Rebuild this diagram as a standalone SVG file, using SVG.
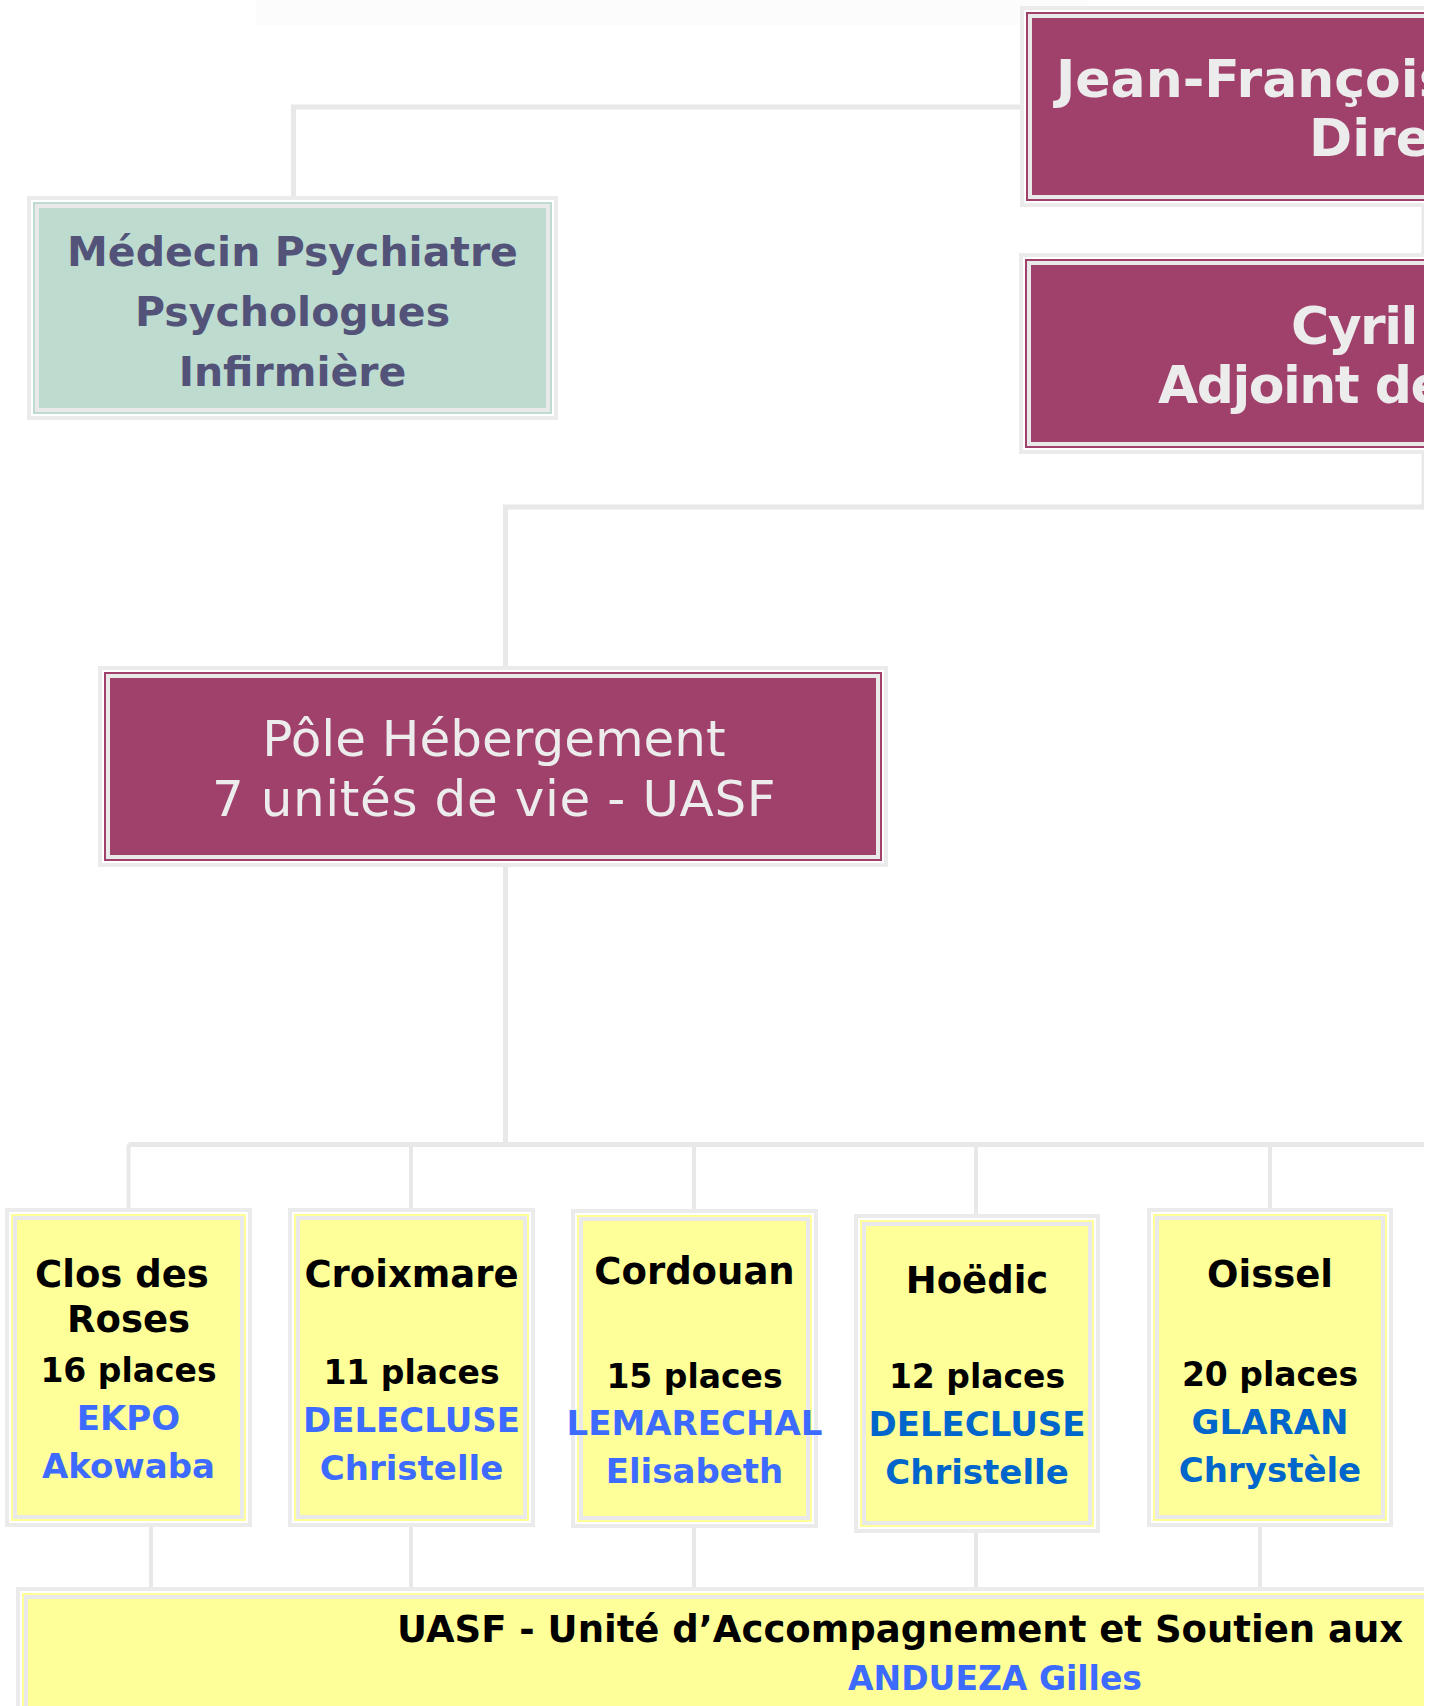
<svg xmlns="http://www.w3.org/2000/svg" width="1441" height="1706" viewBox="0 0 1441 1706">
<defs>
<clipPath id="page"><rect x="0" y="0" width="1424" height="1706"/></clipPath>
</defs>
<style>
.fr{fill:#ebebeb}
.gp{fill:#ffffff}
.ln{fill:#e9e9e9}
.mag{fill:#a0416c}
.grn{fill:#bddccf}
.yel{fill:#ffff99}
.con{fill:none;stroke:#e8e8e8;stroke-width:5}
.con4{fill:none;stroke:#e8e8e8;stroke-width:4}
text{font-family:"DejaVu Sans",Verdana,"Liberation Sans",sans-serif;text-anchor:middle}
.st{text-anchor:start}
.b{font-weight:bold}
.lt{fill:#ececec}
.med{fill:#535379}
.blk{fill:#000000}
.blu{fill:#3d6bff}
.blu2{fill:#0066cc}
.t52{font-size:52px}
.t41{font-size:41px}
.t50{font-size:50px}
.t37{font-size:37px}
.t33{font-size:33px}
.t34{font-size:34px}
.tight{letter-spacing:-1.5px}
</style>
<rect x="0" y="0" width="1441" height="1706" fill="#ffffff"/>
<rect x="256" y="0" width="832" height="25" fill="#fcfcfc"/>

<g id="connectors" clip-path="url(#page)">
  <polyline class="con" points="1020,107 293.5,107 293.5,196"/>
  <line class="con" x1="1424" y1="207" x2="1424" y2="253"/>
  <polyline class="con" points="1424,454 1424,507 505.5,507 505.5,666"/>
  <line class="con" x1="505.5" y1="867" x2="505.5" y2="1144.5"/>
  <line class="con" x1="128.5" y1="1144.5" x2="1430" y2="1144.5"/>
  <line class="con4" x1="128.5" y1="1144.5" x2="128.5" y2="1208"/>
  <line class="con4" x1="411" y1="1144.5" x2="411" y2="1208"/>
  <line class="con4" x1="694" y1="1144.5" x2="694" y2="1209"/>
  <line class="con4" x1="976" y1="1144.5" x2="976" y2="1214"/>
  <line class="con4" x1="1270" y1="1144.5" x2="1270" y2="1208"/>
  <line class="con4" x1="151" y1="1527" x2="151" y2="1587"/>
  <line class="con4" x1="411" y1="1527" x2="411" y2="1587"/>
  <line class="con4" x1="694" y1="1528" x2="694" y2="1587"/>
  <line class="con4" x1="976" y1="1533" x2="976" y2="1587"/>
  <line class="con4" x1="1260" y1="1527" x2="1260" y2="1587"/>
</g>

<g id="node-directeur" clip-path="url(#page)">
  <rect class="fr" x="1020" y="6" width="600" height="201"/>
  <rect class="gp" x="1024" y="10" width="592" height="193"/>
  <rect class="mag" x="1026" y="12" width="588" height="189"/>
  <rect class="ln" x="1028" y="14" width="584" height="185"/>
  <rect class="mag" x="1032" y="18" width="576" height="177"/>
  <text class="b lt t52 st" x="1056" y="97">Jean-François</text>
  <text class="b lt t52 st" x="1309" y="156">Dire</text>
</g>

<g id="node-adjoint" clip-path="url(#page)">
  <rect class="fr" x="1019" y="253" width="600" height="201"/>
  <rect class="gp" x="1023" y="257" width="592" height="193"/>
  <rect class="mag" x="1025" y="259" width="588" height="189"/>
  <rect class="ln" x="1027" y="261" width="584" height="185"/>
  <rect class="mag" x="1031" y="265" width="576" height="177"/>
  <text class="b lt t52 st tight" x="1291" y="344">Cyril</text>
  <text class="b lt t52 st tight" x="1158" y="403">Adjoint de</text>
</g>

<g id="node-medical">
  <rect class="fr" x="27" y="196" width="531" height="224"/>
  <rect class="gp" x="31" y="200" width="523" height="216"/>
  <rect class="grn" x="33" y="202" width="519" height="212"/>
  <rect class="ln" x="35" y="204" width="515" height="208"/>
  <rect class="grn" x="39" y="208" width="507" height="200"/>
  <text class="b med t41" x="292.5" y="266">Médecin Psychiatre</text>
  <text class="b med t41" x="292.5" y="326">Psychologues</text>
  <text class="b med t41" x="292.5" y="386">Infirmière</text>
</g>

<g id="node-pole">
  <rect class="fr" x="98" y="666" width="790" height="201"/>
  <rect class="gp" x="102" y="670" width="782" height="193"/>
  <rect class="mag" x="104" y="672" width="778" height="189"/>
  <rect class="ln" x="106" y="674" width="774" height="185"/>
  <rect class="mag" x="110" y="678" width="766" height="177"/>
  <text class="lt t50" x="494" y="756">Pôle Hébergement</text>
  <text class="lt t50" x="494" y="816" style="letter-spacing:0.6px">7 unités de vie - UASF</text>
</g>

<g id="node-clos">
  <rect class="fr" x="5" y="1208" width="247" height="319"/>
  <rect class="gp" x="9" y="1212" width="239" height="311"/>
  <rect class="yel" x="11" y="1214" width="235" height="307"/>
  <rect class="ln" x="13" y="1216" width="231" height="303"/>
  <rect class="yel" x="17" y="1220" width="223" height="295"/>
  <text class="b blk t37" x="122" y="1287">Clos des</text>
  <text class="b blk t37" x="128.5" y="1332">Roses</text>
  <text class="b blk t33" x="128.5" y="1382">16 places</text>
  <text class="b blu t34" x="128.5" y="1430">EKPO</text>
  <text class="b blu t34" x="128.5" y="1478">Akowaba</text>
</g>

<g id="node-croixmare">
  <rect class="fr" x="288" y="1208" width="247" height="319"/>
  <rect class="gp" x="292" y="1212" width="239" height="311"/>
  <rect class="yel" x="294" y="1214" width="235" height="307"/>
  <rect class="ln" x="296" y="1216" width="231" height="303"/>
  <rect class="yel" x="300" y="1220" width="223" height="295"/>
  <text class="b blk t37" x="411.5" y="1287">Croixmare</text>
  <text class="b blk t33" x="411.5" y="1384">11 places</text>
  <text class="b blu t34" x="411.5" y="1432">DELECLUSE</text>
  <text class="b blu t34" x="411.5" y="1480">Christelle</text>
</g>

<g id="node-cordouan">
  <rect class="fr" x="571" y="1209" width="247" height="319"/>
  <rect class="gp" x="575" y="1213" width="239" height="311"/>
  <rect class="yel" x="577" y="1215" width="235" height="307"/>
  <rect class="ln" x="579" y="1217" width="231" height="303"/>
  <rect class="yel" x="583" y="1221" width="223" height="295"/>
  <text class="b blk t37" x="694.5" y="1284">Cordouan</text>
  <text class="b blk t33" x="694.5" y="1388">15 places</text>
  <text class="b blu t34" x="694.5" y="1435">LEMARECHAL</text>
  <text class="b blu t34" x="694.5" y="1483">Elisabeth</text>
</g>

<g id="node-hoedic">
  <rect class="fr" x="854" y="1214" width="246" height="319"/>
  <rect class="gp" x="858" y="1218" width="238" height="311"/>
  <rect class="yel" x="860" y="1220" width="234" height="307"/>
  <rect class="ln" x="862" y="1222" width="230" height="303"/>
  <rect class="yel" x="866" y="1226" width="222" height="295"/>
  <text class="b blk t37" x="977" y="1293">Hoëdic</text>
  <text class="b blk t33" x="977" y="1388">12 places</text>
  <text class="b blu2 t34" x="977" y="1436">DELECLUSE</text>
  <text class="b blu2 t34" x="977" y="1484">Christelle</text>
</g>

<g id="node-oissel">
  <rect class="fr" x="1147" y="1208" width="246" height="319"/>
  <rect class="gp" x="1151" y="1212" width="238" height="311"/>
  <rect class="yel" x="1153" y="1214" width="234" height="307"/>
  <rect class="ln" x="1155" y="1216" width="230" height="303"/>
  <rect class="yel" x="1159" y="1220" width="222" height="295"/>
  <text class="b blk t37" x="1270" y="1287">Oissel</text>
  <text class="b blk t33" x="1270" y="1386">20 places</text>
  <text class="b blu2 t34" x="1270" y="1434">GLARAN</text>
  <text class="b blu2 t34" x="1270" y="1482">Chrystèle</text>
</g>

<g id="node-uasf" clip-path="url(#page)">
  <rect class="fr" x="16" y="1587" width="1600" height="200"/>
  <rect class="gp" x="20" y="1591" width="1592" height="192"/>
  <rect class="yel" x="22" y="1593" width="1588" height="188"/>
  <rect class="ln" x="24" y="1595" width="1584" height="184"/>
  <rect class="yel" x="28" y="1599" width="1576" height="176"/>
  <text class="b blk t37 st" x="397" y="1642">UASF - Unité d’Accompagnement et Soutien aux</text>
  <text class="b blu t33" x="995" y="1690">ANDUEZA Gilles</text>
</g>
</svg>
